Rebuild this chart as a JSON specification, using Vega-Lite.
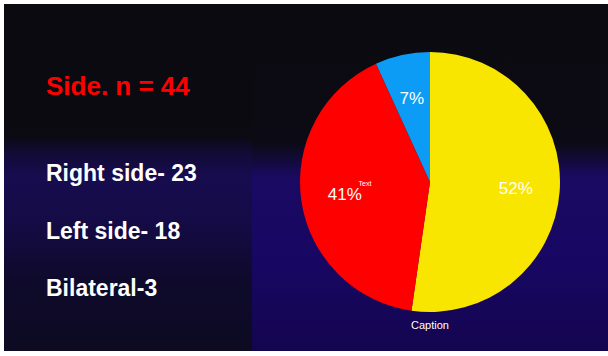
{
  "$schema": "https://vega.github.io/schema/vega-lite/v6.json",
  "background": "#ffffff",
  "padding": {"left": 4, "top": 4, "right": 0, "bottom": 0},
  "spacing": 0,
  "config": {
    "view": {"stroke": null},
    "concat": {"spacing": 0},
    "font": "Liberation Sans"
  },
  "datasets": {
    "side": [
      {"idx": 1, "group": "Right side", "label": "Right side- 23", "count": 23, "pct": "52%", "note": ""},
      {"idx": 2, "group": "Left side", "label": "Left side- 18", "count": 18, "pct": "41%", "note": "Text"},
      {"idx": 3, "group": "Bilateral", "label": "Bilateral-3", "count": 3, "pct": "7%", "note": ""}
    ],
    "heading": [{"text": "Side. n = 44"}]
  },
  "hconcat": [
    {
      "spacing": 0,
      "vconcat": [
        {
          "width": 248,
          "height": 122,
          "view": {"fill": "#0b0a10", "stroke": null},
          "data": {"name": "heading"},
          "mark": {"type": "text", "align": "left", "baseline": "alphabetic", "dy": 30, "font": "Liberation Sans", "fontSize": 26, "fontWeight": "bold", "color": "#ff0000"},
          "encoding": {
            "x": {"value": 42},
            "text": {"field": "text"}
          }
        },
        {
          "width": 248,
          "height": 225,
          "view": {
            "stroke": null,
            "fill": {
              "gradient": "linear", "x1": 0, "y1": 0, "x2": 0, "y2": 1,
              "stops": [
                {"offset": 0, "color": "#0b0a10"},
                {"offset": 0.05, "color": "#0c0a15"},
                {"offset": 0.12, "color": "#120b36"},
                {"offset": 0.22, "color": "#170c4e"},
                {"offset": 0.42, "color": "#150b46"},
                {"offset": 0.68, "color": "#0f0a2c"},
                {"offset": 1, "color": "#0d0a22"}
              ]
            }
          },
          "data": {"name": "side"},
          "mark": {"type": "text", "align": "left", "baseline": "alphabetic", "font": "Liberation Sans", "fontSize": 23, "fontWeight": "bold", "color": "#ffffff"},
          "encoding": {
            "x": {"value": 42},
            "y": {"field": "label", "type": "nominal", "sort": {"field": "idx"}, "scale": {"type": "point", "padding": 0.96}, "axis": null},
            "text": {"field": "label"}
          }
        }
      ]
    },
    {
      "width": 356,
      "height": 347,
      "view": {
        "stroke": null,
        "fill": {
          "gradient": "linear", "x1": 0, "y1": 0, "x2": 0, "y2": 1,
          "stops": [
            {"offset": 0, "color": "#0b0a10"},
            {"offset": 0.4, "color": "#0c0a14"},
            {"offset": 0.5, "color": "#1a0a62"},
            {"offset": 0.72, "color": "#180763"},
            {"offset": 1, "color": "#140550"}
          ]
        }
      },
      "title": {"text": "Caption", "orient": "bottom", "anchor": "middle", "offset": -22, "baseline": "alphabetic", "font": "Liberation Sans", "fontSize": 11, "fontWeight": "normal", "color": "#ffffff"},
      "data": {"name": "side"},
      "encoding": {
        "theta": {"field": "count", "type": "quantitative", "stack": true},
        "order": {"field": "idx", "type": "quantitative"},
        "color": {"field": "group", "type": "nominal", "scale": {"domain": ["Right side", "Left side", "Bilateral"], "range": ["#f9e600", "#ff0000", "#0d9cf5"]}, "legend": null}
      },
      "layer": [
        {"mark": {"type": "arc", "outerRadius": 130, "yOffset": 4.5}},
        {
          "mark": {"type": "text", "radius": 86, "yOffset": 5.5, "font": "Liberation Sans", "fontSize": 17},
          "encoding": {"text": {"field": "pct"}, "color": {"value": "#ffffff"}}
        },
        {
          "mark": {"type": "text", "radius": 65, "thetaOffset": 0.117, "yOffset": 4.5, "font": "Liberation Sans", "fontSize": 7},
          "encoding": {"text": {"field": "note"}, "color": {"value": "#ffffff"}}
        }
      ]
    }
  ]
}
